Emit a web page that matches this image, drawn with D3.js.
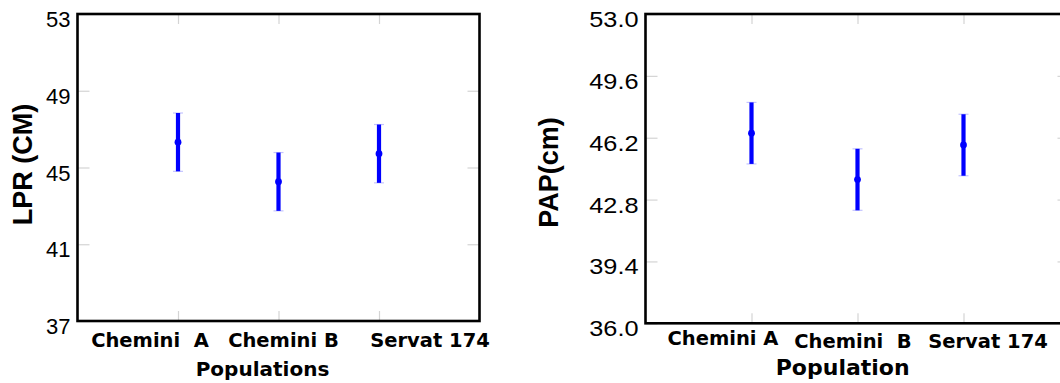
<!DOCTYPE html>
<html>
<head>
<meta charset="utf-8">
<script src="https://cdn.jsdelivr.net/npm/d3@7"></script>
<style>
  html, body { margin: 0; padding: 0; background: #fff; }
  svg { display: block; }
</style>
</head>
<body>
<svg id="chart" width="1060" height="383"></svg>
<script>
// Population means with error half-widths for two traits
const populationsLPR = ["Chemini  A", "Chemini B", "Servat 174"];
const populationsPAP = ["Chemini A", "Chemini  B", "Servat 174"];

const lprMean = [46.32, 44.26, 45.72];
const lprErr  = [1.52, 1.52, 1.52];

const papMean = [46.45, 43.90, 45.80];
const papErr  = [1.69, 1.69, 1.69];

const lprTicks = [37, 41, 45, 49, 53];
const papTicks = [36.0, 39.4, 42.8, 46.2, 49.6, 53.0];

const svg = d3.select("#chart");

function drawPanel(cfg) {
  const g = svg.append("g");
  const x = d3.scaleLinear().domain([0, cfg.categories.length + 1]).range([cfg.left, cfg.right]);
  const y = d3.scaleLinear().domain(cfg.domain).range([cfg.bottom, cfg.top]);
  const pos = (d, i) => x(i + 1);

  // light inward ticks on all four sides
  const tickColor = "#d4d4d4";
  const leftAxis = d3.axisLeft(y).tickValues(cfg.ticks).tickSize(-12).tickPadding(7)
    .tickFormat(cfg.format);
  const la = g.append("g").attr("transform", `translate(${cfg.left},0)`).call(leftAxis);
  la.select(".domain").remove();
  la.selectAll(".tick line").attr("stroke", tickColor).attr("stroke-width", 1.2);
  la.selectAll(".tick text")
    .attr("fill", "#000")
    .attr("font-family", "'Liberation Sans', Arial, sans-serif")
    .attr("font-size", 22)
    .attr("dy", 12.5);
  if (cfg.numStretch !== 1) {
    la.selectAll(".tick text").each(function () {
      const w = this.getComputedTextLength();
      d3.select(this).attr("textLength", w * cfg.numStretch).attr("lengthAdjust", "spacingAndGlyphs");
    });
  }

  const ra = g.append("g").attr("transform", `translate(${cfg.right},0)`)
    .call(d3.axisRight(y).tickValues(cfg.ticks.slice(1, -1)).tickSize(-12).tickFormat(""));
  ra.select(".domain").remove();
  ra.selectAll(".tick line").attr("stroke", tickColor).attr("stroke-width", 1.2);

  const catVals = cfg.categories.map((d, i) => i + 1);
  const ba = g.append("g").attr("transform", `translate(0,${cfg.bottom})`)
    .call(d3.axisBottom(x).tickValues(catVals).tickSize(-10).tickFormat(""));
  ba.select(".domain").remove();
  ba.selectAll(".tick line").attr("stroke", tickColor).attr("stroke-width", 1.2);

  const ta = g.append("g").attr("transform", `translate(0,${cfg.top})`)
    .call(d3.axisTop(x).tickValues(catVals).tickSize(-10).tickFormat(""));
  ta.select(".domain").remove();
  ta.selectAll(".tick line").attr("stroke", tickColor).attr("stroke-width", 1.2);

  // frame
  g.append("rect")
    .attr("x", cfg.left).attr("y", cfg.top)
    .attr("width", cfg.right - cfg.left).attr("height", cfg.bottom - cfg.top)
    .attr("fill", "none").attr("stroke", "#000").attr("stroke-width", 2.6);

  // category labels
  g.selectAll("text.cat").data(cfg.categories).join("text")
    .attr("class", "cat")
    .attr("x", (d, i) => pos(d, i) + cfg.labelShift[i])
    .attr("y", (d, i) => cfg.labelBase[i])
    .attr("text-anchor", "middle")
    .attr("font-family", "'DejaVu Sans', sans-serif")
    .attr("font-weight", "bold")
    .attr("font-size", 19.5)
    .attr("xml:space", "preserve")
    .style("white-space", "pre")
    .text(d => d);

  // axis titles
  g.append("text")
    .attr("x", cfg.xTitleX).attr("y", cfg.xTitleY)
    .attr("text-anchor", "middle")
    .attr("font-family", "'DejaVu Sans', sans-serif")
    .attr("font-weight", "bold")
    .attr("font-size", cfg.xTitleSize)
    .text(cfg.xTitle);

  g.append("text")
    .attr("transform", `translate(${cfg.yTitleX},${cfg.yTitleY}) rotate(-90)`)
    .attr("text-anchor", "middle")
    .attr("font-family", "'Liberation Sans', Arial, sans-serif")
    .attr("font-weight", "bold")
    .attr("font-size", cfg.yTitleSize)
    .style("white-space", "pre")
    .text(cfg.yTitle);

  // error bars
  const bars = g.selectAll("g.bar").data(cfg.means).join("g").attr("class", "bar");
  bars.append("line")
    .attr("x1", (d, i) => pos(d, i) - 5).attr("x2", (d, i) => pos(d, i) + 5)
    .attr("y1", (d, i) => y(d + cfg.errs[i])).attr("y2", (d, i) => y(d + cfg.errs[i]))
    .attr("stroke", "#c4c4ff").attr("stroke-width", 1.2);
  bars.append("line")
    .attr("x1", (d, i) => pos(d, i) - 5).attr("x2", (d, i) => pos(d, i) + 5)
    .attr("y1", (d, i) => y(d - cfg.errs[i])).attr("y2", (d, i) => y(d - cfg.errs[i]))
    .attr("stroke", "#c4c4ff").attr("stroke-width", 1.2);
  bars.append("line")
    .attr("x1", (d, i) => pos(d, i)).attr("x2", (d, i) => pos(d, i))
    .attr("y1", (d, i) => y(d + cfg.errs[i])).attr("y2", (d, i) => y(d - cfg.errs[i]))
    .attr("stroke", "#0000ff").attr("stroke-width", 4.2);
  bars.append("circle")
    .attr("cx", (d, i) => pos(d, i)).attr("cy", d => y(d))
    .attr("r", 3.4).attr("fill", "#0000ff");
}

drawPanel({
  categories: populationsLPR, means: lprMean, errs: lprErr,
  domain: [37, 53], ticks: lprTicks, format: d3.format("d"),
  left: 77.5, right: 479.5, top: 14, bottom: 321,
  numStretch: 1,
  labelShift: [-28, 5, 51], labelBase: [347, 347, 347],
  xTitle: "Populations", xTitleX: 262.5, xTitleY: 376, xTitleSize: 20,
  yTitle: "LPR (CM)", yTitleX: 31.5, yTitleY: 164.5, yTitleSize: 27
});

drawPanel({
  categories: populationsPAP, means: papMean, errs: papErr,
  domain: [36, 53], ticks: papTicks, format: d3.format(".1f"),
  left: 645.5, right: 1069.5, top: 14, bottom: 323.3,
  numStretch: 1.15,
  labelShift: [-28.5, -4.5, 24.5], labelBase: [345, 348, 348],
  xTitle: "Population", xTitleX: 842.7, xTitleY: 375, xTitleSize: 22,
  yTitle: "PAP(cm)", yTitleX: 557.5, yTitleY: 172.5, yTitleSize: 27
});
</script>
</body>
</html>
